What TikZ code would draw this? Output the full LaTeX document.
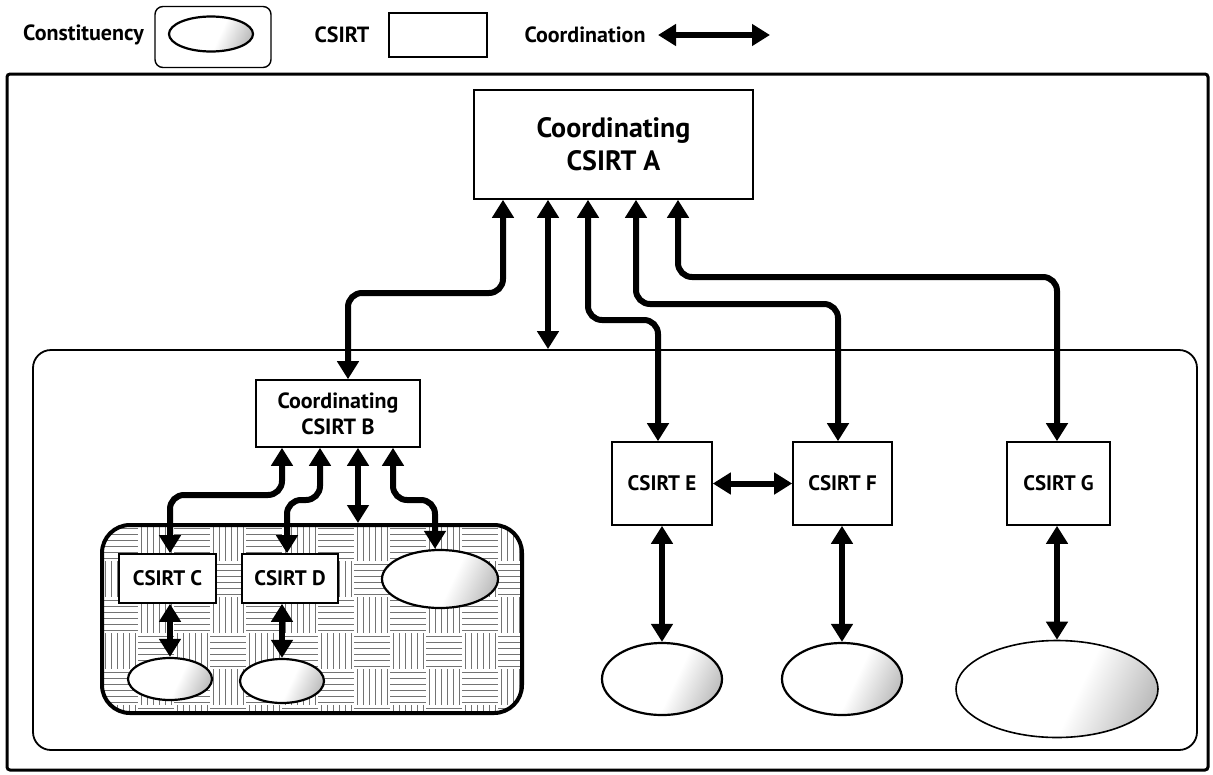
\documentclass[tikz,border=0pt]{standalone}
\usepackage{fontspec}
\setmainfont{PT Sans}
\usetikzlibrary{arrows.meta,shapes.geometric}
\pgfdeclarehorizontalshading{ellsh}{100bp}{color(0bp)=(white); color(56bp)=(white); color(80bp)=(black!30); color(100bp)=(black!80)}
\begin{document}
\begin{tikzpicture}[x=1pt,y=-1pt,
  csirt/.style={draw, line width=1.6pt, fill=white, inner sep=0pt, align=center, font=\fontsize{21}{26}\selectfont\bfseries},
  cons/.style={draw, line width=2.2pt, ellipse, inner sep=0pt, shading=ellsh, shading angle=-25},
  coord/.style={line width=6pt, {Triangle[length=18pt,width=21pt]}-{Triangle[length=18pt,width=21pt]}, rounded corners=14pt},
  lab/.style={inner sep=0pt, font=\fontsize{22}{26}\selectfont\bfseries},
  weave/.style={black!55, line width=0.9pt}
]
\useasboundingbox[fill=white] (0,0) rectangle (1213,774);

% legend
\node[lab] (lcons) at (83.5,35) {Constituency};
\node[draw, line width=1.4pt, rounded corners=8pt, minimum width=116pt, minimum height=61pt] (lbox) at (213,37) {};
\node[cons, minimum width=84pt, minimum height=35pt] (lell) at (211,34) {};
\node[lab] (lcsirt) at (342,35) {CSIRT};
\node[draw, line width=1.4pt, minimum width=98pt, minimum height=44pt] (lrect) at (438,35) {};
\node[lab] (lcoord) at (585,35) {Coordination};
\coordinate (la) at (658,35);
\coordinate (lb) at (770,35);
\draw[coord] (la) -- (lb);

% outer frame
\draw[line width=3pt, rounded corners=3pt] (7,74) rectangle (1208,770);

% region
\node[draw, line width=1.8pt, rounded corners=18pt, minimum width=1164pt, minimum height=400pt] (reg) at (615,550) {};

% basket weave
\begin{scope}
\clip[rounded corners=28pt] (102,525) rectangle (522,713);
\foreach \i in {0,...,11}{
  \foreach \j in {0,...,5}{
    \pgfmathtruncatemacro{\pp}{mod(\i+\j,2)}
    \ifnum\pp=0
      \foreach \k in {3,9,15,21,27,33}{\draw[weave] ({102+36*\i},{525+36*\j+\k}) -- ++(36,0);}
    \else
      \foreach \k in {3,9,15,21,27,33}{\draw[weave] ({102+36*\i+\k},{525+36*\j}) -- ++(0,36);}
    \fi
  }
}
\end{scope}
\node[draw, line width=4pt, rounded corners=28pt, minimum width=420pt, minimum height=188pt] (hatch) at (312,619) {};

% CSIRT boxes
\node[csirt, minimum width=279pt, minimum height=109pt, font=\fontsize{28}{33}\selectfont\bfseries] (A) at (613.5,144.5) {Coordinating\\CSIRT A};
\node[csirt, minimum width=164pt, minimum height=67pt, font=\fontsize{22}{26}\selectfont\bfseries] (B) at (338,413.5) {Coordinating\\CSIRT B};
\node[csirt, minimum width=97pt, minimum height=49pt] (C) at (167.5,578.5) {CSIRT C};
\node[csirt, minimum width=96pt, minimum height=49pt] (D) at (290,578.5) {CSIRT D};
\node[csirt, minimum width=100pt, minimum height=83pt] (E) at (662,483.5) {CSIRT E};
\node[csirt, minimum width=99pt, minimum height=83pt] (F) at (842.5,483.5) {CSIRT F};
\node[csirt, minimum width=103pt, minimum height=83pt] (G) at (1058.5,483.5) {CSIRT G};

% constituencies
\node[cons, minimum width=116pt, minimum height=58pt] (cB) at (440,579) {};
\node[cons, minimum width=84pt, minimum height=42pt] (cC) at (170,679) {};
\node[cons, minimum width=84pt, minimum height=44pt] (cD) at (282,681) {};
\node[cons, minimum width=120pt, minimum height=72pt] (cE) at (662,679) {};
\node[cons, minimum width=120pt, minimum height=72pt] (cF) at (842,679) {};
\node[cons, line width=1.6pt, minimum width=202pt, minimum height=97pt] (cG) at (1057,689) {};

% coordination from A
\draw[coord] ([xshift=-110.5pt]A.south) -- (503,293) -- (348,293) -- ([xshift=10pt]B.north);
\draw[coord] ([xshift=-65.5pt]A.south) -- ([xshift=-65.5pt]A.south |- reg.north);
\draw[coord] ([xshift=-25.5pt]A.south) -- (588,320) -- (658,320) -- ([xshift=-4pt]E.north);
\draw[coord] ([xshift=22.5pt]A.south) -- (636,304) -- (838,304) -- ([xshift=-4.5pt]F.north);
\draw[coord] ([xshift=64.5pt]A.south) -- (678,277) -- (1057,277) -- ([xshift=-1.5pt]G.north);

% coordination from B
\draw[coord] ([xshift=-56pt]B.south) -- (282,495) -- (170,495) -- ([xshift=2.5pt]C.north);
\draw[coord] ([xshift=-18pt]B.south) -- (320,500) -- (287,500) -- ([xshift=-3pt]D.north);
\draw[coord] ([xshift=20pt]B.south) -- ([xshift=20pt]B.south |- hatch.north);
\draw[coord] ([xshift=55pt]B.south) -- (393,500) -- (435,500) -- ([xshift=-5pt]cB.north);

% to constituencies
\draw[coord] ([xshift=2.5pt]C.south) -- (cC.north);
\draw[coord] ([xshift=-8pt]D.south) -- (cD.north);
\draw[coord] (E.south) -- (cE.north);
\draw[coord] ([xshift=-0.5pt]F.south) -- (cF.north);
\draw[coord] ([xshift=-1.5pt]G.south) -- (cG.north);
\draw[coord] (E.east) -- (F.west);
\end{tikzpicture}
\end{document}
